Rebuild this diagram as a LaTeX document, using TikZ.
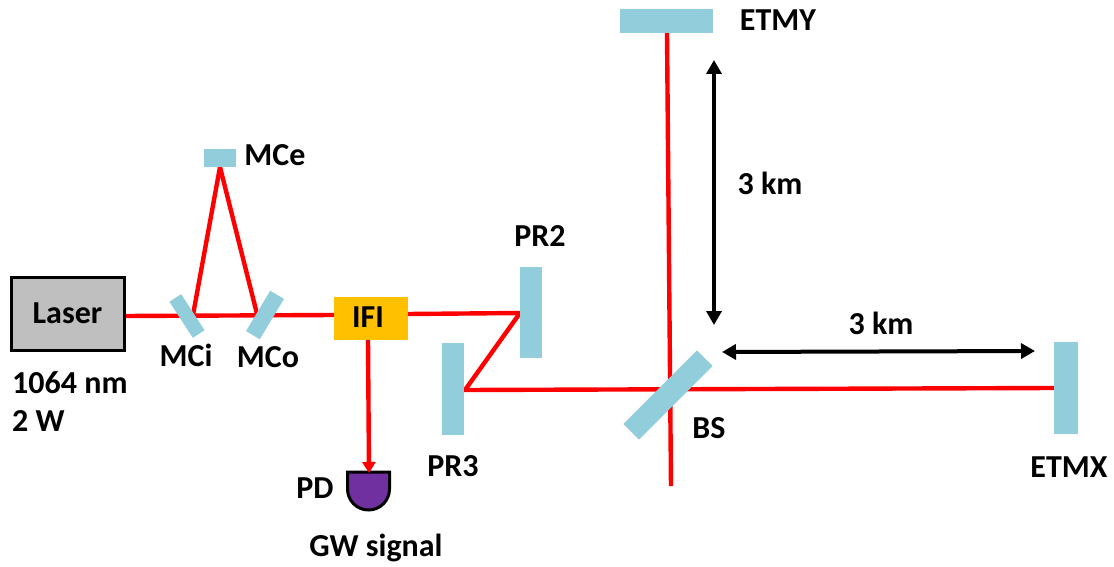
\documentclass[tikz,border=0pt]{standalone}
\usepackage{fontspec}
\setmainfont{Carlito}
\usetikzlibrary{arrows.meta}
\begin{document}
\begin{tikzpicture}[x=1pt,y=-1pt,
  mirror/.style={fill=mirrorblue,draw=none,inner sep=0pt,outer sep=0pt},
  beam/.style={draw=beamred,line width=4.4pt},
  span/.style={draw=black,line width=4pt,{Triangle[length=14pt,width=15pt]}-{Triangle[length=14pt,width=15pt]}},
  lbl/.style={font=\fontsize{32}{34}\selectfont\bfseries,text=black,inner sep=0pt}]
\definecolor{mirrorblue}{HTML}{92CDDC}
\definecolor{beamred}{HTML}{FF0000}
\definecolor{boxgray}{HTML}{BFBFBF}
\definecolor{ifiorange}{HTML}{FFC000}
\definecolor{pdpurple}{HTML}{7030A0}
\useasboundingbox (0,0) rectangle (1114,567);
\coordinate (mcepoint) at (220,167);
\coordinate (micin) at (124,316);
\coordinate (mcip) at (193,315);
\coordinate (mcop) at (257,314);
\coordinate (pr2p) at (520,313);
\coordinate (pr3p) at (465,390);
\coordinate (ifil) at (334,315);
\coordinate (ifir) at (408,314);
\coordinate (ifib) at (368,340);
\coordinate (pdt) at (369,473);
\coordinate (ytop) at (667,33);
\coordinate (ybot) at (671,486);
\coordinate (xend) at (1054,388);
\coordinate (vtop) at (714,60);
\coordinate (vbot) at (714,325);
\coordinate (hl) at (722,352);
\coordinate (hr) at (1035,351);
% detector under its beam
\draw[draw=black,line width=3pt,fill=pdpurple] (347.5,472) -- (389.5,472) -- (389.5,489) arc[start angle=0,end angle=180,radius=21] -- cycle;
% beams
\draw[beam] (micin) -- (ifil);
\draw[beam,line join=miter] (mcip) -- (mcepoint) -- (mcop);
\draw[beam] (ifir) -- (pr2p) -- (pr3p) -- (xend);
\draw[beam] (ytop) -- (ybot);
\draw[beam,-{Triangle[length=11pt,width=13pt]}] (ifib) -- (pdt);
% optics
\node[mirror,minimum width=93pt,minimum height=24pt] (etmy) at (666.5,21) {};
\node[mirror,minimum width=24pt,minimum height=92pt] (etmx) at (1066,388) {};
\node[mirror,minimum width=22pt,minimum height=91pt] (pr2) at (531,312.5) {};
\node[mirror,minimum width=22pt,minimum height=92pt] (pr3) at (453,389) {};
\node[mirror,minimum width=32pt,minimum height=18pt] (mce) at (220,158) {};
\node[mirror,minimum width=14pt,minimum height=43pt,rotate=33] (mci) at (187,316) {};
\node[mirror,minimum width=16pt,minimum height=47pt,rotate=-31] (mco) at (265,315) {};
\node[mirror,minimum width=104pt,minimum height=22pt,rotate=45] (bs) at (668,395) {};
\node[draw=black,line width=3pt,fill=boxgray,minimum width=113pt,minimum height=73pt,inner sep=0pt,font=\fontsize{32}{34}\selectfont\bfseries] (laser) at (67.5,313.5) {Laser};
\node[fill=ifiorange,minimum width=74pt,minimum height=43pt,inner sep=0pt] (ifi) at (371,318.5) {};
\node[lbl] (tifi) at (368,317) {IFI};
% spans
\draw[span] (vtop) -- (vbot);
\draw[span] (hl) -- (hr);
% labels
\node[lbl] (tmce) at (275,155) {MCe};
\node[lbl] (tmci) at (186,355) {MCi};
\node[lbl] (tmco) at (268,357) {MCo};
\node[lbl,anchor=west] (t1064) at (12,383) {1064 nm};
\node[lbl,anchor=west] (t2w) at (12,421) {2 W};
\node[lbl] (tpd) at (315,488) {PD};
\node[lbl] (tgw) at (376,548) {GW signal};
\node[lbl] (tpr2) at (540,236) {PR2};
\node[lbl] (tpr3) at (453,466) {PR3};
\node[lbl] (tbs) at (709,428) {BS};
\node[lbl] (tetmy) at (778,20) {ETMY};
\node[lbl] (tetmx) at (1069,467) {ETMX};
\node[lbl] (tv) at (770,183) {3 km};
\node[lbl] (th) at (881,323) {3 km};
\end{tikzpicture}
\end{document}
